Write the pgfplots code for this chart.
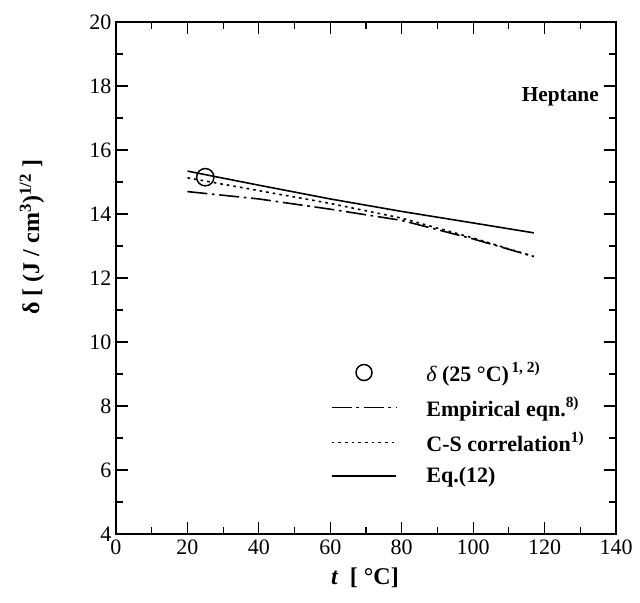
\documentclass[border=0pt]{standalone}
\usepackage{fontspec}
\setmainfont{Liberation Serif}
\usepackage{pgfplots}
\pgfplotsset{compat=1.18}
\pgfplotsset{
  longline/.style={legend image code/.code={\draw[##1] (0cm,0cm) -- (1.7cm,0cm);}},
  circleentry/.style={legend image code/.code={\draw[##1, mark=none] (0.85cm,0cm) circle (6pt);}},
}

\begin{document}
\begin{tikzpicture}
  \begin{axis}[
      scale only axis,
      width=375pt, height=384pt,
      xmin=0, xmax=140, ymin=4, ymax=20,
      xtick={0,20,...,140}, ytick={4,6,...,20},
      minor x tick num=1, minor y tick num=1,
      tick align=inside,
      major tick length=9pt, minor tick length=5pt,
      tick style={black, line width=0.9pt},
      axis line style={line width=1pt},
      /pgf/number format/assume math mode=true,
      tick label style={font=\fontsize{16.5}{18}\selectfont},
      xticklabel style={yshift=-1pt},
      every axis y label/.style={at={(axis description cs:-0.168,0.58)},rotate=90,anchor=center},
      every axis x label/.style={at={(axis description cs:0.498,-0.086)},anchor=center},
      ylabel={\fontsize{18}{20}\selectfont\bfseries δ [ (J / cm\textsuperscript{3})\textsuperscript{1/2} ]},
      xlabel={\fontsize{18}{20}\selectfont\bfseries\itshape t\upshape\ \ [ °C]},
      legend style={draw=none, fill=none, at={(axis cs:59,9.55)}, anchor=north west,
        font=\fontsize{16.5}{18}\selectfont\bfseries, row sep=6.5pt,
        /tikz/every odd column/.append style={column sep=20pt}},
      legend cell align=left,
    ]
    \addplot[only marks, mark=o, mark size=6.5pt, line width=1.1pt, black,
      mark options={fill=white}, circleentry]
      coordinates {(25,15.15)};
    \addlegendentry{\mdseries\itshape δ\upshape\bfseries\ (25 °C)\textsuperscript{\,1, 2)}}

    \addplot[black, line width=1.2pt, dash pattern=on 15pt off 3.5pt on 2pt off 3.5pt, longline]
      coordinates {(20,14.70) (40,14.47) (60,14.15) (80,13.80) (100,13.22) (117,12.67)};
    \addlegendentry{Empirical eqn.\textsuperscript{8)}}

    \addplot[black, line width=1.2pt, dash pattern=on 2pt off 3pt, longline]
      coordinates {(20,15.13) (40,14.73) (60,14.33) (80,13.87) (100,13.25) (117,12.67)};
    \addlegendentry{C-S correlation\textsuperscript{1)}}

    \addplot[black, line width=1.2pt, longline]
      coordinates {(20,15.34) (40,14.90) (60,14.47) (80,14.08) (100,13.72) (117,13.41)};
    \addlegendentry{Eq.(12)}

    \node[font=\fontsize{16}{18}\selectfont\bfseries, anchor=east] at (axis cs:136.5,17.65) {Heptane};
  \end{axis}
  \path (current axis.south west) ++(-87pt,-51pt) coordinate (bbsw);
  \path (current axis.north east) ++(18pt,16.5pt) coordinate (bbne);
  \useasboundingbox (bbsw) rectangle (bbne);
\end{tikzpicture}
\end{document}
